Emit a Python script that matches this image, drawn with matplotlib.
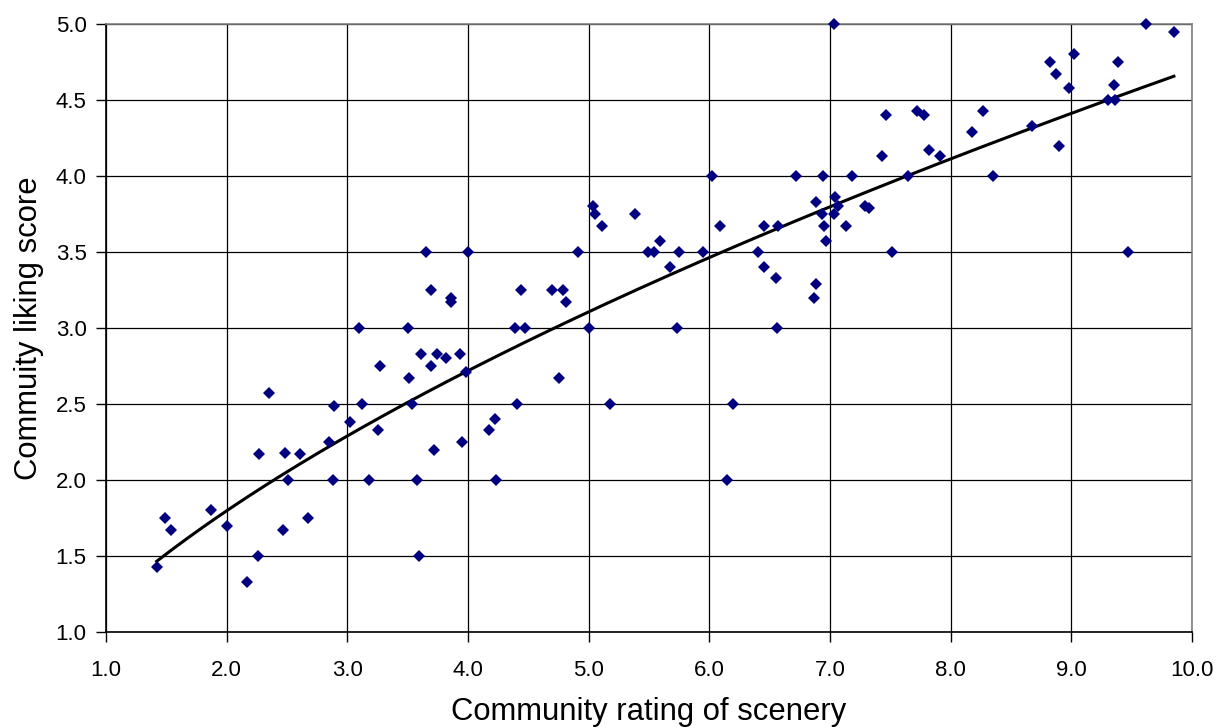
import numpy as np
import matplotlib
matplotlib.use('Agg')
import matplotlib.pyplot as plt

# community rating of scenery (x) vs community liking score (y)
scenery = [1.42, 1.49, 1.54, 1.87, 2.00, 2.17, 2.26, 2.27, 2.35, 2.47,
           2.48, 2.51, 2.61, 2.67, 2.85, 2.88, 2.89, 3.02, 3.12, 3.10,
           3.25, 3.27, 3.18, 3.50, 3.51, 3.54, 3.58, 3.59, 3.61, 3.69,
           3.72, 3.74, 3.82, 3.93, 3.95, 3.98, 3.65, 4.00, 3.69, 3.86,
           3.86, 4.17, 4.22, 4.23, 4.41, 4.39, 4.47, 4.44, 4.70, 4.79,
           4.81, 4.75, 4.91, 5.00, 5.11, 5.18, 5.49, 5.54, 5.59, 5.75,
           5.67, 5.73, 5.95, 6.09, 6.15, 6.20, 6.40, 5.04, 5.05, 5.38,
           6.02, 6.45, 6.45, 6.55, 6.57, 6.56, 6.72, 6.88, 6.88, 6.87,
           6.94, 6.93, 6.95, 6.97, 7.04, 7.07, 7.03, 7.13, 7.18, 7.29,
           7.32, 7.43, 7.51, 7.65, 7.82, 7.91, 7.03, 7.46, 7.72, 7.78,
           8.18, 8.27, 8.35, 8.67, 8.82, 8.87, 8.90, 8.98, 9.02, 9.30,
           9.36, 9.35, 9.39, 9.47, 9.62, 9.85]
liking = [1.43, 1.75, 1.67, 1.80, 1.70, 1.33, 1.50, 2.17, 2.57, 1.67,
          2.18, 2.00, 2.17, 1.75, 2.25, 2.00, 2.49, 2.38, 2.50, 3.00,
          2.33, 2.75, 2.00, 3.00, 2.67, 2.50, 2.00, 1.50, 2.83, 2.75,
          2.20, 2.83, 2.80, 2.83, 2.25, 2.71, 3.50, 3.50, 3.25, 3.20,
          3.17, 2.33, 2.40, 2.00, 2.50, 3.00, 3.00, 3.25, 3.25, 3.25,
          3.17, 2.67, 3.50, 3.00, 3.67, 2.50, 3.50, 3.50, 3.57, 3.50,
          3.40, 3.00, 3.50, 3.67, 2.00, 2.50, 3.50, 3.80, 3.75, 3.75,
          4.00, 3.67, 3.40, 3.33, 3.67, 3.00, 4.00, 3.83, 3.29, 3.20,
          4.00, 3.75, 3.67, 3.57, 3.86, 3.80, 3.75, 3.67, 4.00, 3.80,
          3.79, 4.13, 3.50, 4.00, 4.17, 4.13, 5.00, 4.40, 4.43, 4.40,
          4.29, 4.43, 4.00, 4.33, 4.75, 4.67, 4.20, 4.58, 4.80, 4.50,
          4.50, 4.60, 4.75, 3.50, 5.00, 4.95]

xticks = np.arange(1.0, 10.01, 1.0)
yticks = np.arange(1.0, 5.01, 0.5)

plt.rcParams['font.family'] = ['Liberation Sans', 'DejaVu Sans']

fig = plt.figure(figsize=(12.17, 7.28), dpi=100)
ax = fig.add_axes([106 / 1217, 1 - 632 / 728, (1192 - 106) / 1217, (632 - 24) / 728])

x = np.array(scenery)
y = np.array(liking)

# power trendline (like excel)
b, lna = np.polyfit(np.log(x), np.log(y), 1)
xs = np.linspace(x.min(), x.max(), 200)
ax.plot(xs, np.exp(lna) * xs ** b, color='black', lw=2.2, zorder=2)

ax.plot(x, y, 'D', color='#000080', markersize=5.8, markeredgewidth=0, zorder=3,
        clip_on=False)

ax.set_xlim(1.0, 10.0)
ax.set_ylim(1.0, 5.0)
ax.set_xticks(xticks)
ax.set_yticks(yticks)
ax.set_xticklabels(['%.1f' % v for v in xticks])
ax.set_yticklabels(['%.1f' % v for v in yticks])
ax.grid(True, color='black', lw=0.9, zorder=0)
ax.set_axisbelow(True)

ax.tick_params(axis='both', direction='out', length=7, width=1, labelsize=16, colors='black')
ax.tick_params(axis='x', pad=13)
ax.tick_params(axis='y', pad=7)

for s in ['top', 'right']:
    ax.spines[s].set_color('#808080')
    ax.spines[s].set_linewidth(1.2)
for s in ['left', 'bottom']:
    ax.spines[s].set_color('black')
    ax.spines[s].set_linewidth(1.2)

ax.set_xlabel('Community rating of scenery', fontsize=22.3, labelpad=12)
ax.set_ylabel('Commuity liking score', fontsize=22.3, labelpad=8)

fig.savefig('out.png', dpi=100)
